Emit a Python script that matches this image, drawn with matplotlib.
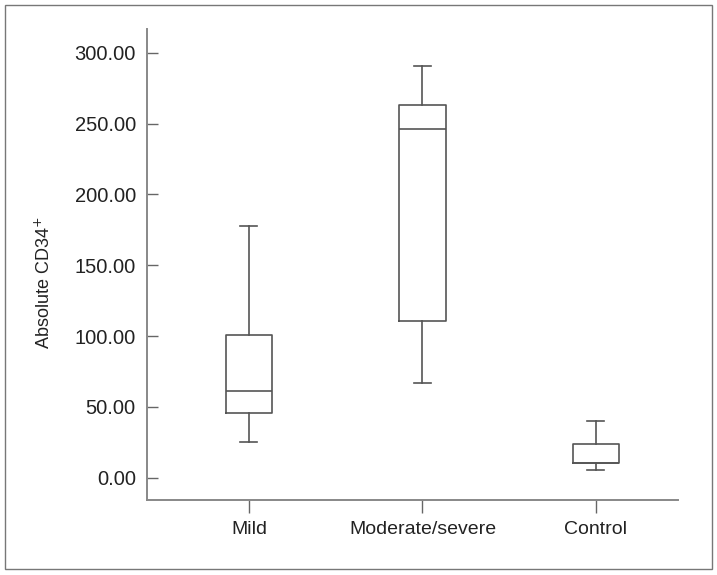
import matplotlib
matplotlib.use("Agg")
import matplotlib.pyplot as plt
from matplotlib.patches import Rectangle

plt.rcParams['font.family'] = ['Liberation Sans', 'DejaVu Sans']

categories = ["Mild", "Moderate/severe", "Control"]
whisker_low = [25.6, 67.1, 5.3]
q1 = [45.9, 110.6, 10.2]
median = [61.1, 246.1, 10.2]
q3 = [100.8, 263.2, 23.9]
whisker_high = [177.5, 290.4, 39.9]
yticks = [0, 50, 100, 150, 200, 250, 300]

fig = plt.figure(figsize=(7.17, 5.75), dpi=100)
ax = fig.add_axes([0.205, 0.1296, 0.7406, 0.8194])

stats = []
for i, name in enumerate(categories):
    stats.append(dict(label=name, whislo=whisker_low[i], q1=q1[i], med=median[i],
                      q3=q3[i], whishi=whisker_high[i], fliers=[]))

lc = '#555555'
ax.bxp(stats, positions=[1, 2, 3], widths=0.268, showfliers=False,
       boxprops=dict(color=lc, linewidth=1.2),
       medianprops=dict(color=lc, linewidth=1.2),
       whiskerprops=dict(color=lc, linewidth=1.2),
       capprops=dict(color=lc, linewidth=1.2),
       capwidths=0.098)

ax.set_xlim(0.412, 3.473)
ax.set_ylim(-16.0, 316.5)
ax.set_yticks(yticks)
ax.set_yticklabels([f"{v:.2f}" for v in yticks])
ax.set_xticks([1, 2, 3])
ax.set_xticklabels(categories)

for s in ['top', 'right']:
    ax.spines[s].set_visible(False)
for s in ['left', 'bottom']:
    ax.spines[s].set_color('#888888')
    ax.spines[s].set_linewidth(1.4)

ax.tick_params(axis='y', direction='in', length=8, width=1.0, color='#666666',
               pad=8, labelsize=14.5, labelcolor='#222222')
ax.tick_params(axis='x', direction='out', length=9, width=1.0, color='#666666',
               pad=6, labelsize=14, labelcolor='#222222')

ax.set_ylabel("Absolute CD34$^{+}$", fontsize=13, color='#222222')
ax.yaxis.set_label_coords(-0.1766, 0.4616)

fig.patches.append(Rectangle((0.007, 0.0099), 0.9856, 0.9814, transform=fig.transFigure,
                             fill=False, edgecolor='#777777', linewidth=1.0))

fig.savefig("out.png", dpi=100)
